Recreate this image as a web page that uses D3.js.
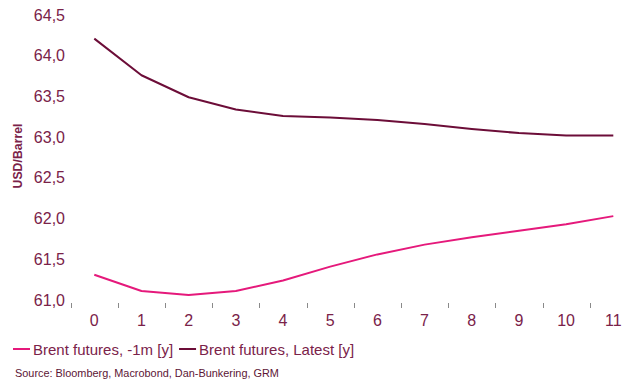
<!DOCTYPE html>
<html>
<head>
<meta charset="utf-8">
<script src="https://cdn.jsdelivr.net/npm/d3@7"></script>
<style>
  html, body { margin: 0; padding: 0; background: #fff; }
  svg { display: block; font-family: "Liberation Sans", Arial, sans-serif; }
</style>
</head>
<body>
<svg id="chart" width="633" height="382"></svg>
<script>
// Years ahead on the futures curve
const years = [0, 1, 2, 3, 4, 5, 6, 7, 8, 9, 10, 11];
// Brent futures curve one month ago (USD/barrel)
const brentMonthAgo = [61.31, 61.11, 61.06, 61.11, 61.24, 61.41, 61.56, 61.68, 61.77, 61.85, 61.93, 62.03];
// Latest Brent futures curve (USD/barrel)
const brentLatest = [64.21, 63.76, 63.49, 63.34, 63.26, 63.24, 63.21, 63.16, 63.10, 63.05, 63.02, 63.02];
const yTicks = [61.0, 61.5, 62.0, 62.5, 63.0, 63.5, 64.0, 64.5];
const seriesNames = ["Brent futures, -1m [y]", "Brent futures, Latest [y]"];
const sourceText = "Source: Bloomberg, Macrobond, Dan-Bunkering, GRM";

const textColor = "#7a2249";
const colors = ["#e5197b", "#6c0d38"];

const svg = d3.select("#chart");

const x = d3.scaleBand().domain(years).range([70.7, 636.9]);
const y = d3.scaleLinear().domain([61, 64.5]).range([300, 15]);
const cx = d => x(d) + x.bandwidth() / 2;

// Y axis: labels only, no axis line
const yAxis = svg.append("g")
  .attr("transform", "translate(65,0)")
  .call(d3.axisLeft(y).tickValues(yTicks).tickSize(0).tickPadding(0)
    .tickFormat(d => d3.format(".1f")(d).replace(".", ",")));
yAxis.select(".domain").remove();
yAxis.selectAll("text")
  .attr("fill", textColor)
  .attr("font-size", 16)
  .attr("font-family", "Liberation Sans, Arial, sans-serif");

// X axis: ticks at band boundaries, labels centred in bands
const xAxis = svg.append("g").attr("transform", "translate(0,303)");
xAxis.selectAll("line.tick").data(years).join("line")
  .attr("class", "tick")
  .attr("x1", d => Math.round(x(d)) + 0.5)
  .attr("x2", d => Math.round(x(d)) + 0.5)
  .attr("y1", 0).attr("y2", 5)
  .attr("stroke", "#8a8a8a").attr("stroke-width", 1);
xAxis.selectAll("text").data(years).join("text")
  .attr("x", d => cx(d))
  .attr("y", 23)
  .attr("text-anchor", "middle")
  .attr("fill", textColor)
  .attr("font-size", 16)
  .text(d => d);

// Y axis title
svg.append("text")
  .attr("transform", "translate(22,156) rotate(-90)")
  .attr("text-anchor", "middle")
  .attr("fill", textColor)
  .attr("font-size", 12.3)
  .attr("font-weight", "bold")
  .text("USD/Barrel");

// Lines
const line = d3.line().x((d, i) => cx(years[i])).y(d => y(d));
[brentMonthAgo, brentLatest].forEach((s, i) => {
  svg.append("path")
    .datum(s)
    .attr("d", line)
    .attr("fill", "none")
    .attr("stroke", colors[i])
    .attr("stroke-width", 2)
    .attr("stroke-linejoin", "round");
});

// Legend
const legend = svg.append("g").attr("transform", "translate(0,349)");
let lx = 13;
seriesNames.forEach((name, i) => {
  legend.append("line")
    .attr("x1", lx).attr("x2", lx + 17)
    .attr("y1", 0).attr("y2", 0)
    .attr("stroke", colors[i]).attr("stroke-width", 2);
  const t = legend.append("text")
    .attr("x", lx + 20)
    .attr("y", 5.5)
    .attr("fill", textColor)
    .attr("font-size", 15)
    .text(name);
  lx += 20 + t.node().getComputedTextLength() + 6;
});

// Source note
svg.append("text")
  .attr("x", 15)
  .attr("y", 376.5)
  .attr("fill", "#5c1535")
  .attr("font-size", 10.9)
  .text(sourceText);
</script>
</body>
</html>
